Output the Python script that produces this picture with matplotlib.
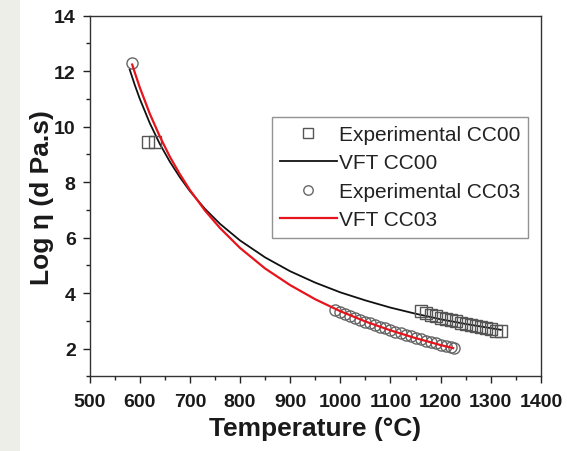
import matplotlib
matplotlib.use("Agg")
import matplotlib.pyplot as plt
from matplotlib.patches import Rectangle

plt.rcParams['font.family'] = ['Liberation Sans', 'DejaVu Sans']

# Experimental data CC00 (squares)
exp_cc00_T = [617, 631, 1160, 1170, 1180, 1190, 1200, 1210, 1220, 1230, 1240,
              1250, 1260, 1270, 1280, 1290, 1300, 1310, 1320]
exp_cc00_v = [9.45, 9.45, 3.35, 3.28, 3.22, 3.16, 3.11, 3.06, 3.02, 2.98, 2.94,
              2.90, 2.86, 2.82, 2.78, 2.74, 2.70, 2.65, 2.62]

# Experimental data CC03 (circles)
exp_cc03_T = [584, 990, 1000, 1010, 1020, 1030, 1040, 1050, 1060, 1070, 1080,
              1090, 1100, 1110, 1120, 1130, 1140, 1150, 1160, 1170, 1180, 1190,
              1200, 1210, 1220, 1227]
exp_cc03_v = [12.3, 3.38, 3.31, 3.24, 3.17, 3.10, 3.03, 2.97, 2.91, 2.85, 2.79,
              2.73, 2.67, 2.61, 2.55, 2.49, 2.44, 2.39, 2.34, 2.29, 2.24, 2.19,
              2.14, 2.09, 2.05, 2.02]

# VFT fit curves
vft_cc00_T = [580, 590, 600, 620, 640, 660, 680, 700, 730, 760, 800, 850, 900,
              950, 1000, 1050, 1100, 1150, 1200, 1250, 1300, 1320]
vft_cc00_v = [12.06, 11.51, 11.01, 10.13, 9.38, 8.74, 8.18, 7.68, 7.04, 6.50,
              5.90, 5.29, 4.79, 4.38, 4.03, 3.74, 3.48, 3.26, 3.06, 2.89, 2.74, 2.68]

vft_cc03_T = [585, 590, 600, 620, 640, 660, 680, 700, 730, 760, 800, 850, 900,
              950, 1000, 1050, 1100, 1150, 1200, 1225]
vft_cc03_v = [12.24, 11.96, 11.42, 10.47, 9.65, 8.92, 8.29, 7.72, 6.98, 6.35,
              5.63, 4.89, 4.29, 3.78, 3.35, 2.98, 2.66, 2.38, 2.13, 2.02]

x_ticks = [500, 600, 700, 800, 900, 1000, 1100, 1200, 1300, 1400]
y_ticks = [2, 4, 6, 8, 10, 12, 14]

fig = plt.figure(figsize=(5.67, 4.52), dpi=100)
fig.patch.set_facecolor('white')
fig.patches.append(Rectangle((0, 0), 0.035, 1, transform=fig.transFigure,
                             facecolor='#eeeee8', edgecolor='none', zorder=-1))

ax = fig.add_axes([0.158, 0.165, 0.796, 0.798])

ax.plot(exp_cc00_T, exp_cc00_v, linestyle='none', marker='s', markersize=8,
        markerfacecolor='none', markeredgecolor='#555555', markeredgewidth=1.0,
        label='Experimental CC00', zorder=3)
ax.plot(vft_cc00_T, vft_cc00_v, color='#111111', linewidth=1.3,
        label='VFT CC00', zorder=2)
ax.plot(exp_cc03_T, exp_cc03_v, linestyle='none', marker='o', markersize=8,
        markerfacecolor='none', markeredgecolor='#666666', markeredgewidth=1.0,
        label='Experimental CC03', zorder=3)
ax.plot(vft_cc03_T, vft_cc03_v, color='#e8141c', linewidth=1.6,
        label='VFT CC03', zorder=4)

ax.set_xlim(500, 1400)
ax.set_ylim(1, 14)
ax.set_xticks(x_ticks)
ax.set_yticks(y_ticks)
ax.set_xticks(range(550, 1400, 100), minor=True)
ax.set_yticks(range(1, 14, 2), minor=True)
ax.tick_params(which='both', direction='out', top=False, right=False,
               colors='#222222', width=1.0)
ax.tick_params(which='major', length=5, labelsize=14, pad=5)
ax.tick_params(axis='x', which='major', pad=7)
ax.tick_params(which='minor', length=3)
for lab in ax.get_xticklabels() + ax.get_yticklabels():
    lab.set_fontweight('bold')
    lab.set_color('#1a1a1a')
for sp in ax.spines.values():
    sp.set_color('#333333')
    sp.set_linewidth(1.0)

ax.set_xlabel('Temperature (\u00b0C)', fontsize=19, fontweight='bold',
              labelpad=4, color='#1a1a1a')
ax.set_ylabel('Log \u03b7 (d Pa.s)', fontsize=19, fontweight='bold',
              labelpad=0, color='#1a1a1a')

leg = ax.legend(loc='upper left', bbox_to_anchor=(0.404, 0.72), fontsize=15,
                frameon=True, fancybox=False, edgecolor='#777777',
                handlelength=2.7, handletextpad=0.1, borderpad=0.4,
                labelspacing=0.45, borderaxespad=0, markerscale=0.85)
leg.get_frame().set_linewidth(1.0)
for t in leg.get_texts():
    t.set_color('#222222')

fig.savefig('out.png', dpi=100, facecolor=fig.get_facecolor())
